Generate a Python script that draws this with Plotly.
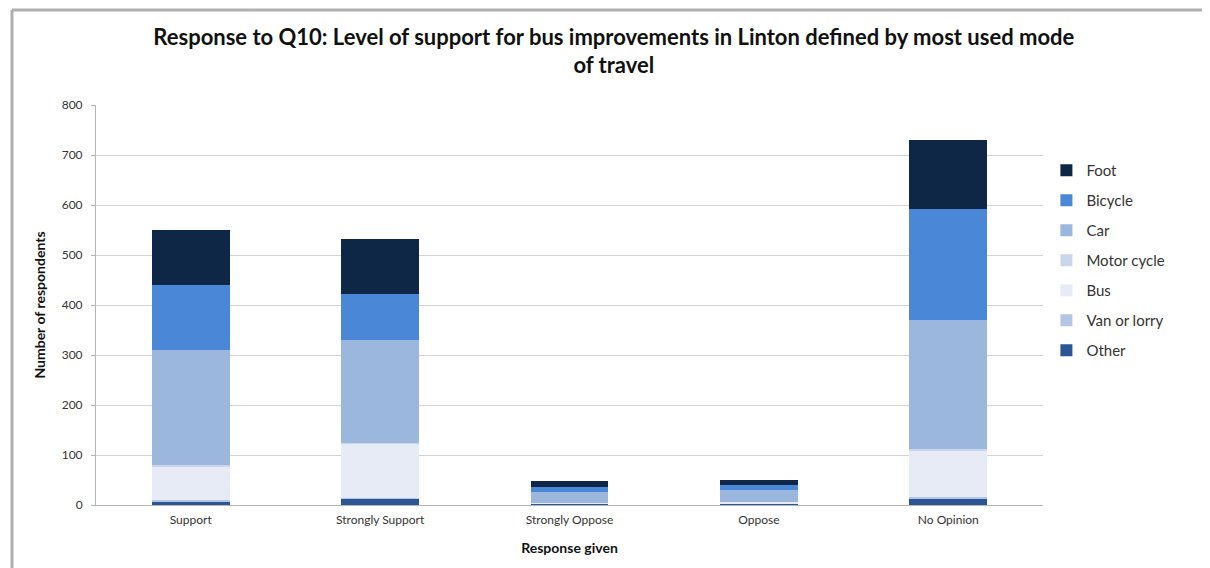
import plotly.graph_objects as go

categories = ["Support", "Strongly Support", "Strongly Oppose", "Oppose", "No Opinion"]

# Stacked series, bottom to top
other = [7, 12, 2, 2, 13]
van_or_lorry = [4, 3, 1, 1, 4]
bus = [66, 108, 2, 3, 92]
motor_cycle = [3, 2, 0, 0, 4]
car = [230, 205, 22, 24, 258]
bicycle = [130, 92, 10, 10, 222]
foot = [110, 110, 11, 10, 138]

series = [
    ("Other", other, "#2c5596"),
    ("Van or lorry", van_or_lorry, "#b3c6e3"),
    ("Bus", bus, "#e6ebf6"),
    ("Motor cycle", motor_cycle, "#c9d6ec"),
    ("Car", car, "#9cb7dd"),
    ("Bicycle", bicycle, "#4a87d6"),
    ("Foot", foot, "#0f2746"),
]

fig = go.Figure()
n = len(series)
for i, (name, vals, color) in enumerate(series):
    fig.add_trace(go.Bar(
        x=categories, y=vals, name=name, legendgroup=name,
        legendrank=1000 - i,
        marker=dict(color=color, line=dict(width=0)),
    ))

W, H = 1202, 560
L, R, T, B = 88, 167, 97, 63
pw, ph = W - L - R, H - T - B

def px(x):
    return (x - L) / pw

def py(y):
    return (H - B - y) / ph

fig.update_layout(
    barmode="stack",
    bargap=0.59,
    width=W, height=H,
    paper_bgcolor="white", plot_bgcolor="white",
    margin=dict(l=L, r=R, t=T, b=B),
    font=dict(family="Lato, 'Open Sans', sans-serif", color="#222"),
    title=dict(
        text="<b>Response to Q10: Level of support for bus improvements in Linton defined by most used mode<br>of travel</b>",
        x=0.504, xanchor="center", xref="container",
        y=1 - 36.5 / H, yanchor="middle", yref="container",
        font=dict(size=22, color="#111"),
    ),
    legend=dict(
        traceorder="grouped", x=1.0036, xanchor="left", y=py(146), yanchor="top",
        font=dict(size=15, color="#333"), tracegroupgap=7.5,
        itemwidth=30,
    ),
    xaxis=dict(
        title=dict(text="<b>Response given</b>", font=dict(size=14, color="#111"), standoff=16),
        tickfont=dict(size=12, color="#333"),
        showline=True, linecolor="#b5b5b5", linewidth=1,
        ticks="", ticklabelstandoff=4,
    ),
    yaxis=dict(
        title=dict(text="<b>Number of respondents</b>", font=dict(size=14, color="#111"), standoff=12),
        range=[0, 800], dtick=100,
        tickfont=dict(size=12, color="#333"),
        showgrid=True, gridcolor="#d4d4d4", gridwidth=1,
        zeroline=False, showline=True, linecolor="#b5b5b5", linewidth=1,
        ticks="outside", ticklen=4, tickcolor="#b5b5b5", ticklabelstandoff=6,
    ),
    shapes=[
        dict(type="line", xref="paper", yref="paper",
             x0=px(4), x1=px(1197), y0=py(2), y1=py(2),
             line=dict(color="#b0b0b0", width=3)),
        dict(type="line", xref="paper", yref="paper",
             x0=px(4), x1=px(4), y0=py(2), y1=py(580),
             line=dict(color="#b0b0b0", width=3)),
        dict(type="line", xref="paper", yref="paper",
             x0=px(1197), x1=px(1197), y0=py(2), y1=py(580),
             line=dict(color="#ececec", width=2)),
    ],
)

fig.write_html("out.html")
